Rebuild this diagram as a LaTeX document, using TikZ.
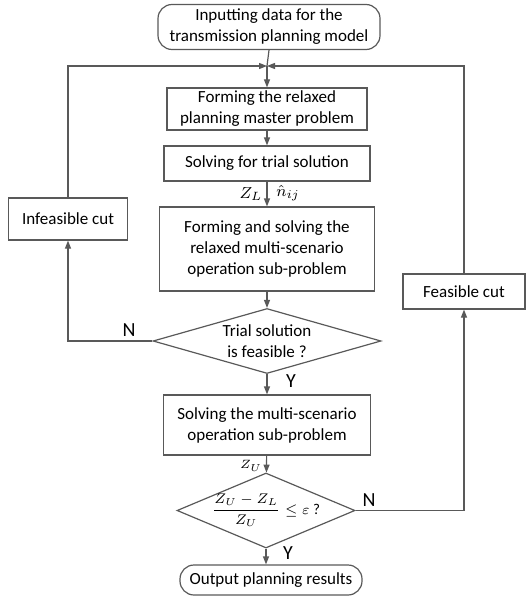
\documentclass[tikz,border=0pt]{standalone}
\usepackage{amsmath, amssymb}
\usepackage{fontspec}
\setmainfont{Carlito}
\usepackage{tikz}
\usetikzlibrary{arrows.meta, positioning, calc, shapes}

\begin{document}
\begin{tikzpicture}[x=0.5pt, y=-0.5pt,
    line width=0.6pt, draw=black!65,
    proc/.style={draw=black!65, rectangle, align=center, inner sep=1pt,
        font=\fontsize{8.5}{10.5}\selectfont},
    term/.style={proc, rounded corners=7pt},
    dec/.style={draw=black!65, diamond, aspect=3, inner sep=0pt, align=center,
        font=\fontsize{8.5}{10.5}\selectfont},
    flow/.style={draw=black!65, -{Triangle[length=4pt, width=3pt]}},
    yn/.style={font=\fontsize{10}{12}\selectfont}]

    \useasboundingbox (0,0) rectangle (525,599);

    % 主流程
    \node[term, minimum width=111pt, minimum height=22.5pt] (input) at (269,27)
        {Inputting data for the\\transmission planning model};
    \coordinate (join) at (267,66);
    \node[proc, minimum width=100pt, minimum height=21pt] (master) at (267,109)
        {Forming the relaxed\\planning master problem};
    \node[proc, minimum width=103pt, minimum height=17.5pt] (trial) at (267,163.5)
        {Solving for trial solution};
    \node[proc, minimum width=107.5pt, minimum height=42pt] (relaxsub) at (267,249)
        {Forming and solving the\\relaxed multi-scenario\\operation sub-problem};
    \node[dec, minimum width=114pt, minimum height=32.5pt] (feas) at (267,341)
        {Trial solution\\is feasible ?};
    \node[proc, minimum width=103.5pt, minimum height=30pt] (fullsub) at (267,425)
        {Solving the multi-scenario\\operation sub-problem};
    \node[dec, minimum width=89pt, minimum height=37.5pt,
        label={[font=\fontsize{7.5}{9}\selectfont]center:{$\dfrac{Z_U-Z_L}{Z_U}\le\varepsilon$ ?}}]
        (gap) at (266,510.5) {};
    \node[term, minimum width=91pt, minimum height=15pt] (output) at (271,580)
        {Output planning results};

    % 割
    \node[proc, minimum width=59.5pt, minimum height=21pt] (infcut) at (68,219)
        {Infeasible cut};
    \node[proc, minimum width=61pt, minimum height=17.5pt] (fcut) at (464,291.5)
        {Feasible cut};

    % 连线
    \draw (input.south) -- (join);
    \draw[flow] (join) -- (master);
    \draw[flow] (master) -- (trial);
    \draw[flow] (trial) -- (relaxsub);
    \draw[flow] (relaxsub) -- (feas);
    \draw[flow] (feas) -- (fullsub);
    \draw[flow] (fullsub) -- (gap);
    \draw[flow] (gap.south) -- (gap.south |- output.north);
    \draw[flow] (feas.west) -| (infcut.south);
    \draw[flow] (infcut.north) |- (join);
    \draw[flow] (gap.east) -| (fcut.south);
    \draw[flow] (fcut.north) |- (join);

    % 标注
    \node[font=\fontsize{8}{9}\selectfont] (zl) at (251,194) {$Z_L$};
    \node[font=\fontsize{8}{9}\selectfont] (nij) at (288,193) {$\hat{n}_{ij}$};
    \node[font=\fontsize{6.5}{8}\selectfont] (zu) at (251,466) {$Z_U$};
    \node[yn] (yes1) at (291,381) {Y};
    \node[yn] (no1) at (129,330) {N};
    \node[yn] (no2) at (369,500) {N};
    \node[yn] (yes2) at (288,553) {Y};

\end{tikzpicture}
\end{document}
